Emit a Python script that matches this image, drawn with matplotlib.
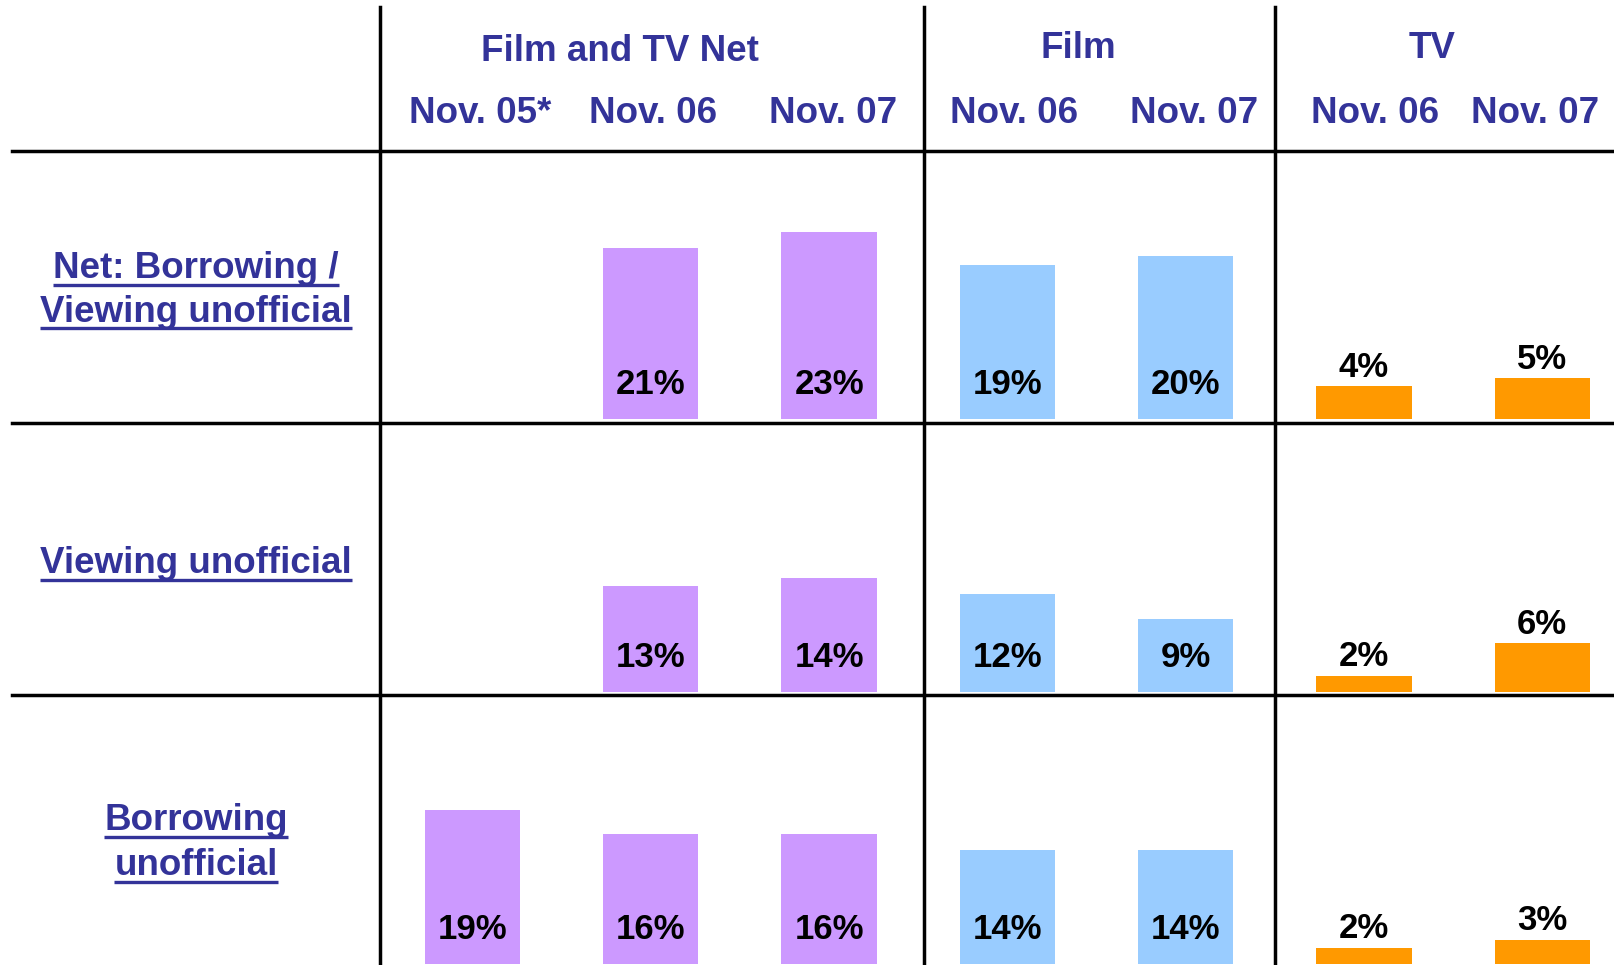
import matplotlib
matplotlib.use("Agg")
import matplotlib.pyplot as plt
from matplotlib.lines import Line2D
import numpy as np

plt.rcParams['font.family'] = ['Liberation Sans', 'DejaVu Sans']

# data
groups = ['Film and TV Net', 'Film', 'TV']
periods = ['Nov. 05*', 'Nov. 06', 'Nov. 07', 'Nov. 06', 'Nov. 07', 'Nov. 06', 'Nov. 07']
row_labels = [['Net: Borrowing /', 'Viewing unofficial'],
              ['Viewing unofficial'],
              ['Borrowing', 'unofficial']]
net_vals = [None, 21, 23, 19, 20, 4, 5]
viewing_vals = [None, 13, 14, 12, 9, 2, 6]
borrowing_vals = [19, 16, 16, 14, 14, 2, 3]
rows = [net_vals, viewing_vals, borrowing_vals]

col_colors = ['#CC99FF', '#CC99FF', '#CC99FF', '#99CCFF', '#99CCFF', '#FF9900', '#FF9900']
navy = '#333399'

W, H = 1615, 965
fig = plt.figure(figsize=(W / 100, H / 100), dpi=100)


def fx(px):
    return px / W


def fy(py):
    return 1 - py / H


x0, step = 472.5, 178.3        # pixel position of first bar and spacing
px_per_pct = 8.13
baselines = [419, 692, 964]
row_h = 268

x = np.arange(len(periods))
for r, vals in enumerate(rows):
    ax = fig.add_axes([0, fy(baselines[r]), 1, row_h / H])
    ax.set_xlim(-x0 / step, (W - x0) / step)
    ax.set_ylim(0, row_h / px_per_pct)
    ax.axis('off')
    idx = [i for i, v in enumerate(vals) if v is not None]
    ax.bar(x[idx], [vals[i] for i in idx], width=0.535,
           color=[col_colors[i] for i in idx])
    for i in idx:
        v = vals[i]
        # label inside the bar near its foot when it fits, else just above
        ly = 4.3 if v >= 8 else v + 2.35
        ax.text(x[i], ly, f"{v}%", ha='center', va='center',
                fontsize=25, fontweight='bold', color='black')

# grid lines
lw = 2.5
for py in [151, 423, 695]:
    fig.add_artist(Line2D([fx(12), 1], [fy(py), fy(py)], color='black', lw=lw,
                          transform=fig.transFigure))
for px in [380, 924, 1275]:
    fig.add_artist(Line2D([fx(px), fx(px)], [fy(7), 0], color='black', lw=lw,
                          transform=fig.transFigure))

# column headers
group_pos = [(620, 61), (1078, 58), (1432, 58)]
for g, (px, py) in zip(groups, group_pos):
    fig.text(fx(px), fy(py), g, ha='center', va='baseline', fontsize=26.5,
             fontweight='bold', color=navy)
period_px = [480, 653, 833, 1014, 1194, 1375, 1535]
for p, px in zip(periods, period_px):
    fig.text(fx(px), fy(123), p, ha='center', va='baseline', fontsize=26.5,
             fontweight='bold', color=navy)

# row labels, underlined
label_baselines = [[278, 322], [573], [830, 875]]
label_texts = []
for lines, bls in zip(row_labels, label_baselines):
    for line, bl in zip(lines, bls):
        t = fig.text(fx(196), fy(bl), line, ha='center', va='baseline',
                     fontsize=26.5, fontweight='bold', color=navy)
        label_texts.append((t, bl))

fig.canvas.draw()
renderer = fig.canvas.get_renderer()
for t, bl in label_texts:
    bb = t.get_window_extent(renderer)
    uy = fy(bl + 6.5)
    fig.add_artist(Line2D([bb.x0 / W, bb.x1 / W], [uy, uy], color=navy, lw=2.4,
                          transform=fig.transFigure, solid_capstyle='butt'))

fig.savefig('out.png', dpi=100)
